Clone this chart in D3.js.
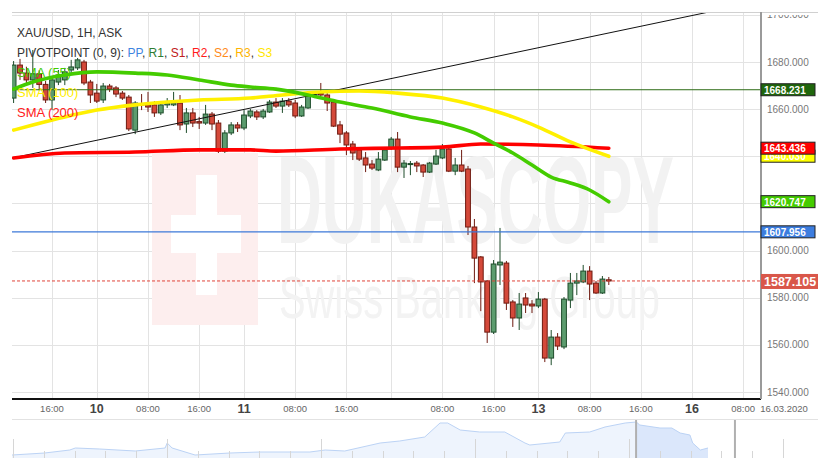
<!DOCTYPE html>
<html><head><meta charset="utf-8">
<script src="https://cdn.jsdelivr.net/npm/d3@7"></script>
<style>
html,body{margin:0;padding:0;background:#fff;}
svg{display:block;font-family:"Liberation Sans",Arial,sans-serif;}
</style>
</head><body>
<svg id="chart" width="818" height="467"></svg>
<script>
// ---------- DATA ----------
// hourly candles, slot index 0..93 (XAU/USD 1H ask), 9 Mar 10:00 -> 13 Mar 11:00
const opens  = [1664.7,1678.7,1675.3,1672.4,1675.0,1670.5,1663.9,1671.5,1672.4,1676.6,1677.5,1680.0,1671.5,1666.8,1663.9,1669.8,1669.0,1666.8,1665.1,1651.1,
                1662.2,1661.8,1661.8,1658.4,1661.8,1661.8,1662.6,1653.7,1658.4,1654.7,1654.1,1657.9,1654.1,1642.2,1649.9,1653.3,1652.0,1657.1,1658.8,1656.7,
                1658.8,1663.0,1661.3,1663.4,1662.6,1657.1,1660.5,1665.6,1667.3,1666.0,1663.0,1653.3,1649.9,1645.2,1642.7,1639.3,1636.7,1634.2,1638.4,1643.5,
                1647.3,1635.4,1636.7,1637.1,1636.3,1633.3,1636.7,1639.3,1643.1,1633.7,1636.3,1634.6,1610.0,1597.3,1587.1,1565.4,1593.9,1594.7,1578.2,1571.4,
                1579.9,1577.3,1576.5,1579.4,1554.4,1563.3,1559.1,1579.0,1586.2,1586.7,1591.3,1586.2,1582.0,1587.6];
const highs  = [1680.4,1681.3,1678.0,1685.1,1676.5,1672.0,1674.1,1676.6,1677.5,1680.9,1681.7,1680.9,1672.4,1670.7,1671.1,1670.7,1669.8,1667.7,1666.0,1663.4,
                1666.4,1667.3,1663.4,1662.6,1664.7,1667.3,1666.0,1660.5,1660.5,1656.7,1661.8,1658.8,1655.4,1651.1,1654.5,1654.5,1659.6,1660.1,1659.6,1660.1,
                1663.9,1664.7,1664.7,1664.7,1663.9,1661.8,1666.0,1666.8,1671.1,1666.8,1664.3,1655.0,1650.7,1646.5,1643.5,1641.8,1638.4,1641.8,1643.9,1648.2,
                1650.3,1638.4,1638.0,1638.0,1636.7,1637.6,1642.7,1645.2,1644.8,1639.3,1642.7,1635.9,1613.4,1597.7,1587.5,1596.0,1609.6,1595.6,1579.0,1582.0,
                1582.0,1579.0,1582.4,1579.9,1566.3,1565.0,1580.3,1590.5,1590.5,1593.9,1593.4,1587.1,1589.2,1588.8];
const lows   = [1662.6,1672.4,1670.2,1669.0,1668.0,1662.6,1659.6,1670.2,1670.2,1674.5,1676.6,1670.2,1662.6,1662.6,1662.6,1667.3,1665.1,1663.9,1650.7,1649.4,
                1659.6,1658.8,1656.7,1657.5,1660.5,1661.3,1651.1,1649.9,1652.4,1651.6,1653.3,1651.1,1641.4,1641.4,1649.0,1650.3,1651.1,1656.2,1655.4,1655.8,
                1658.4,1660.5,1658.4,1660.9,1656.2,1656.7,1660.1,1664.7,1665.6,1659.2,1652.4,1645.6,1640.5,1638.4,1638.0,1633.3,1634.2,1633.7,1638.0,1642.7,
                1633.3,1630.8,1632.0,1633.3,1631.2,1632.9,1636.3,1638.8,1633.3,1632.0,1633.3,1606.6,1586.2,1574.3,1560.8,1564.6,1585.4,1574.8,1567.6,1566.3,
                1573.5,1573.5,1575.6,1552.7,1551.4,1557.8,1558.2,1575.6,1581.1,1586.2,1579.0,1581.6,1581.6,1585.4];
const closes = [1678.7,1675.3,1672.4,1675.0,1670.5,1663.9,1672.4,1674.5,1675.8,1677.9,1680.9,1671.1,1666.0,1663.4,1669.8,1668.5,1666.4,1664.7,1651.6,1662.6,
                1661.8,1660.9,1658.4,1661.8,1662.6,1662.6,1653.3,1658.4,1654.1,1654.1,1657.9,1653.7,1642.2,1649.9,1653.3,1652.0,1657.5,1659.2,1656.7,1659.2,
                1663.0,1661.3,1663.4,1661.8,1657.1,1660.9,1665.6,1666.0,1666.0,1662.6,1652.8,1649.4,1644.8,1641.4,1638.8,1636.3,1635.0,1638.8,1642.7,1647.3,
                1635.4,1637.1,1636.9,1635.9,1633.3,1637.1,1640.1,1643.1,1633.7,1636.3,1633.7,1610.0,1596.8,1586.7,1565.4,1594.3,1595.1,1577.7,1571.4,1577.3,
                1576.9,1576.5,1579.4,1554.4,1563.3,1559.5,1579.4,1586.2,1587.1,1591.3,1585.8,1582.0,1587.9,1587.1];

// moving averages (slot, value)
const sma55Slots  = [0,3,8,13,19,24,29,34,37,41,46,51,56,62,67,72,75,78,81,84,87,90,93];
const sma55Vals   = [1668.5,1671.5,1674.5,1675.8,1675.3,1674.5,1672.4,1670.2,1669.4,1668.5,1666.0,1663.0,1660.5,1656.7,1654.1,1649.9,1645.6,1641.4,1636.3,1631.2,1628.7,1625.7,1620.7];
const sma100Slots = [0,3,8,13,19,24,29,37,42,48,54,60,67,73,78,82,87,93];
const sma100Vals  = [1651.1,1653.3,1656.7,1659.6,1661.8,1663.0,1663.9,1664.7,1666.0,1667.3,1667.7,1666.8,1664.7,1660.9,1656.7,1652.4,1646.1,1640.0];
const sma200Slots = [0,8,19,29,37,41,51,60,67,73,82,93];
const sma200Vals  = [1639.3,1641.4,1641.8,1642.7,1642.7,1642.2,1643.1,1643.5,1643.9,1645.2,1644.8,1643.4];

// trend line (slot, price)
const trendSlots = [0,100];
const trendVals  = [1639.4,1696.3];

// horizontal levels
const levelR1 = 1668.231, levelPP = 1607.956, lastPrice = 1587.105;
const lastSma55 = 1620.747, lastSma100 = 1640.030, lastSma200 = 1643.436;

// axes
const priceTicks = [1540,1560,1580,1600,1620,1640,1660,1680,1700];
const hiddenPriceTicks = [1620,1640];   // covered by value boxes in the original
const timeTickSlots  = [6,13,21,29,36,44,52,59,67,75,82,90,98,106,114];
const timeTickLabels = ["16:00","10","08:00","16:00","11","08:00","16:00","","08:00","16:00","13","08:00","16:00","16","08:00"];
const dayLabels = ["10","11","13","16"];
const dateLabel = "16.03.2020";

// navigator (relative time 0..100, relative level)
const navT = [0,4.7,8.3,9.1,12.6,17.7,22,22.3,23,26.3,31.3,35.6,42.8,45,47.8,52.9,55.7,59.3,61.5,62.6,64.4,67.2,70.8,73.7,74.4,78.7,79.5,83,85.2,88.1,89.7,90.2,93.1,94.8,96,97.4,97.8,98.9,100];
const navV = [3,5,8,10,9,7,10,15,10,3,5,6,6,8,7,15,17,21,35,35,28,26,26,15,13,16,25,26,31,35,36,33,30,30,25,23,15,8,10];
const navDays = d3.range(0,26);
const navSel = [20.23,23.44];

// ---------- LAYOUT ----------
const L=12, R=761, T=12, B=399;
const svg = d3.select("#chart");
const x = d3.scaleLinear().domain([0,93]).range([13.6, 13.6+6.4*93]);
const y = d3.scaleLinear().domain([1540,1680]).range([392,62]);

const defs = svg.append("defs");
defs.append("clipPath").attr("id","plot")
  .append("rect").attr("x",L).attr("y",T).attr("width",R-L).attr("height",B-T);
defs.append("clipPath").attr("id","axisclip")
  .append("rect").attr("x",R).attr("y",15).attr("width",818-R).attr("height",B-15+2);

// grid
const grid = svg.append("g").attr("clip-path","url(#plot)");
grid.selectAll("line.h").data(priceTicks).enter().append("line")
  .attr("x1",L).attr("x2",R).attr("y1",d=>Math.round(y(d))+0.5).attr("y2",d=>Math.round(y(d))+0.5)
  .attr("stroke","#e3e3e3").attr("stroke-width",1);
grid.selectAll("line.v").data(timeTickSlots).enter().append("line")
  .attr("y1",T).attr("y2",B).attr("x1",d=>Math.round(x(d))+0.5).attr("x2",d=>Math.round(x(d))+0.5)
  .attr("stroke","#e3e3e3").attr("stroke-width",1);

// watermark
const wm = svg.append("g");
wm.append("rect").attr("x",152).attr("y",153).attr("width",106).attr("height",172).attr("fill","#fdeeee");
wm.append("rect").attr("x",196).attr("y",175).attr("width",21).attr("height",120).attr("fill","#ffffff");
wm.append("rect").attr("x",171).attr("y",215).attr("width",70).attr("height",38).attr("fill","#ffffff");
wm.append("text").text("DUKASCOPY").attr("x",277).attr("y",243)
  .attr("font-family","'Liberation Sans Narrow','Liberation Sans',sans-serif").attr("font-weight","bold")
  .attr("font-size",124).attr("textLength",397).attr("lengthAdjust","spacingAndGlyphs").attr("fill","#f2f2f2");
wm.append("text").text("Swiss Banking Group").attr("x",279).attr("y",318)
  .attr("font-family","'Liberation Sans Narrow','Liberation Sans',sans-serif")
  .attr("font-size",60).attr("textLength",381).attr("lengthAdjust","spacingAndGlyphs").attr("fill","#f3f3f3");

// candles
const candles = opens.map((o,i)=>({i,o,h:highs[i],l:lows[i],c:closes[i]}));
const cg = svg.append("g").attr("clip-path","url(#plot)");
const up = d=>d.c>=d.o;
cg.selectAll("line.w").data(candles).enter().append("line")
  .attr("x1",d=>x(d.i)).attr("x2",d=>x(d.i)).attr("y1",d=>y(d.h)).attr("y2",d=>y(d.l))
  .attr("stroke",d=>up(d)?"#1e4d2b":"#6e1a10").attr("stroke-width",1);
cg.selectAll("rect.b").data(candles).enter().append("rect")
  .attr("x",d=>x(d.i)-2.4).attr("width",4.8)
  .attr("y",d=>y(Math.max(d.o,d.c))).attr("height",d=>Math.max(1,Math.abs(y(d.o)-y(d.c))))
  .attr("fill",d=>up(d)?"#5c9c6e":"#d4493a").attr("stroke",d=>up(d)?"#1e4d2b":"#6e1a10").attr("stroke-width",1);

// lines on top
const lg = svg.append("g").attr("clip-path","url(#plot)");
lg.append("line").attr("x1",L).attr("x2",R).attr("y1",y(levelR1)).attr("y2",y(levelR1)).attr("stroke","#2c6a14").attr("stroke-width",1);
lg.append("line").attr("x1",L).attr("x2",R).attr("y1",y(levelPP)).attr("y2",y(levelPP)).attr("stroke","#3c78d8").attr("stroke-width",1.2);
lg.append("line").attr("x1",L).attr("x2",R).attr("y1",y(lastPrice)).attr("y2",y(lastPrice)).attr("stroke","#e0443a").attr("stroke-width",1).attr("stroke-dasharray","3,2");

const tslope = (trendVals[1]-trendVals[0])/(trendSlots[1]-trendSlots[0]);
const tAt = s=>trendVals[0]+tslope*(s-trendSlots[0]);
lg.append("line").attr("x1",x(-2)).attr("y1",y(tAt(-2))).attr("x2",x(130)).attr("y2",y(tAt(130)))
  .attr("stroke","#111").attr("stroke-width",1);

const line = d3.line().x(d=>x(d[0])).y(d=>y(d[1])).curve(d3.curveMonotoneX);
[[sma200Slots,sma200Vals,"#ff0000"],[sma100Slots,sma100Vals,"#fff000"],[sma55Slots,sma55Vals,"#44cc00"]].forEach(([s,v,col])=>{
  lg.append("path").attr("d",line(s.map((k,j)=>[k,v[j]]))).attr("fill","none").attr("stroke",col)
    .attr("stroke-width",3.6).attr("stroke-linejoin","round").attr("stroke-linecap","round");
});

// legend text
const leg = svg.append("g").attr("font-size",12);
leg.append("text").attr("x",17).attr("y",37).attr("fill","#333").text("XAU/USD, 1H, ASK");
const piv = leg.append("text").attr("x",17).attr("y",57).attr("fill","#333");
const pivParts = [["PIVOTPOINT (0, 9): ","#333"],["PP","#3d85e0"],[", ","#333"],["R1","#2e7d32"],[", ","#333"],["S1","#c02020"],[", ","#333"],
  ["R2","#ff1a1a"],[", ","#333"],["S2","#ff8a1a"],[", ","#333"],["R3","#ffb400"],[", ","#333"],["S3","#ffe600"]];
pivParts.forEach(([t,c])=>piv.append("tspan").attr("fill",c).text(t));
leg.append("text").attr("x",17).attr("y",77).attr("fill","#44cc00").attr("font-size",13).text("SMA (55)");
leg.append("text").attr("x",17).attr("y",97).attr("fill","#ffee00").attr("font-size",13).text("SMA (100)");
leg.append("text").attr("x",17).attr("y",117).attr("fill","#ff2020").attr("font-size",13).text("SMA (200)");

// frame lines
svg.append("line").attr("x1",L).attr("x2",818).attr("y1",T+0.5).attr("y2",T+0.5).attr("stroke","#d0d0d0");
svg.append("line").attr("x1",L).attr("x2",R).attr("y1",B).attr("y2",B).attr("stroke","#111").attr("stroke-width",2);
svg.append("line").attr("x1",R).attr("x2",R).attr("y1",T).attr("y2",B).attr("stroke","#9a9a9a").attr("stroke-width",2);

// price axis labels
const ax = svg.append("g").attr("clip-path","url(#axisclip)");
ax.selectAll("text").data(priceTicks.filter(d=>!hiddenPriceTicks.includes(d))).enter().append("text")
  .attr("x",767).attr("y",d=>y(d)+3.5).attr("font-size",10).attr("fill","#777")
  .text(d=>d3.format(".3f")(d));

// price boxes
const boxes = [
  {v:levelR1, bg:"#1f660c"},
  {v:lastSma100, bg:"#ffff00"},
  {v:lastSma200, bg:"#ff0000"},
  {v:lastSma55, bg:"#44cc00"},
  {v:levelPP, bg:"#3c7ddf"}
];
boxes.forEach(b=>{
  const yy = y(b.v);
  svg.append("rect").attr("x",R).attr("y",yy-6).attr("width",54).attr("height",12)
    .attr("fill",b.bg).attr("stroke","#222").attr("stroke-width",1);
  svg.append("text").attr("x",764).attr("y",yy+4).attr("font-size",10).attr("font-weight","bold")
    .attr("fill","#fff").text(d3.format(".3f")(b.v));
});
{
  const yy = y(lastPrice);
  svg.append("rect").attr("x",R).attr("y",yy-7).attr("width",57).attr("height",15).attr("fill","#d9574a");
  svg.append("text").attr("x",764).attr("y",yy+5).attr("font-size",12.5).attr("font-weight","bold")
    .attr("fill","#fff").text(d3.format(".3f")(lastPrice));
}

// time axis labels
const tg = svg.append("g");
timeTickSlots.forEach((s,j)=>{
  const lab = timeTickLabels[j];
  if(!lab) return;
  const isDay = dayLabels.includes(lab);
  tg.append("text").attr("x",x(s)).attr("y",isDay?413:412).attr("text-anchor","middle")
    .attr("font-size",isDay?12.5:9.5).attr("font-weight",isDay?"bold":"normal")
    .attr("fill",isDay?"#444":"#666").text(lab);
});
tg.append("text").attr("x",784).attr("y",412).attr("text-anchor","middle").attr("font-size",9.5).attr("fill","#666").text(dateLabel);

// navigator
svg.append("line").attr("x1",L).attr("x2",818).attr("y1",419.5).attr("y2",419.5).attr("stroke","#e2e2e2");
const nx = d3.scaleLinear().domain([0,100]).range([12,708]);
const ny = d3.scaleLinear().domain([0,40]).range([458,418]);
const nd = d3.scaleLinear().domain([0,1]).range([13,43.8]);
const navPts = navT.map((t,j)=>[t,navV[j]]);
const area = d3.area().x(d=>nx(d[0])).y0(458).y1(d=>ny(d[1]));
const nline = d3.line().x(d=>nx(d[0])).y(d=>ny(d[1]));
defs.append("clipPath").attr("id","sel").append("rect").attr("x",nd(navSel[0])).attr("y",419).attr("width",nd(navSel[1])-nd(navSel[0])).attr("height",45);
svg.append("path").attr("d",area(navPts)).attr("fill","#eef4fd");
svg.append("path").attr("d",area(navPts)).attr("fill","#dbe7fb").attr("clip-path","url(#sel)");
svg.append("path").attr("d",nline(navPts)).attr("fill","none").attr("stroke","#bcd3f5").attr("stroke-width",1);
svg.selectAll("line.nt").data(navDays).enter().append("line")
  .attr("x1",d=>Math.round(nd(d))+0.5).attr("x2",d=>Math.round(nd(d))+0.5)
  .attr("y1",d=>d%5===0 ? 439 : 451).attr("y2",458)
  .attr("stroke","#d6d6d6").attr("stroke-width",1);
navSel.forEach(d=>{
  svg.append("line").attr("x1",nd(d)).attr("x2",nd(d)).attr("y1",420).attr("y2",458).attr("stroke","#b0b0b0").attr("stroke-width",2);
});
</script>
</body></html>
